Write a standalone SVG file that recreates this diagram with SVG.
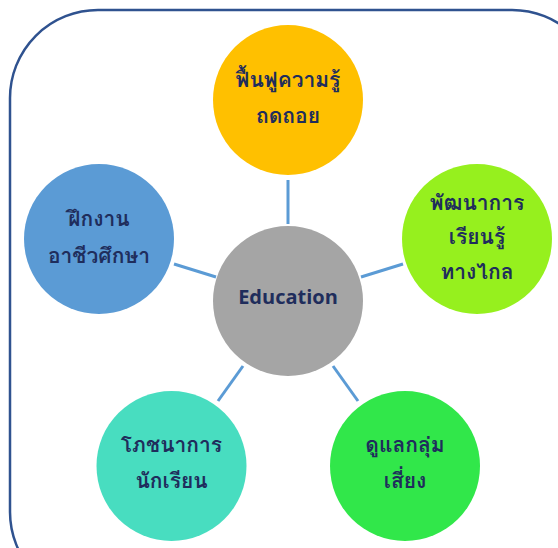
<svg xmlns="http://www.w3.org/2000/svg" width="558" height="548" viewBox="0 0 558 548">
<style>
.frame{fill:#ffffff;stroke:#2F528F;stroke-width:2.5}
.link{stroke:#5B9BD5;stroke-width:3;fill:none}
.t{font-family:"Tahoma","Loma","Garuda","Noto Sans Thai","Noto Sans",sans-serif;font-size:21px;font-weight:bold;fill:#1F2D5C;text-anchor:middle}
.e{font-family:"Open Sans","Noto Sans",sans-serif;font-size:20px;font-weight:bold;fill:#1F2D5C;text-anchor:middle}
</style>
<rect x="0" y="0" width="558" height="548" fill="#ffffff"/>
<rect class="frame" x="10" y="10" width="590" height="590" rx="88" ry="88"/>
<g id="connectors">
<line class="link" x1="288" y1="180" x2="288" y2="224"/>
<line class="link" x1="361" y1="277" x2="403" y2="264"/>
<line class="link" x1="174" y1="264" x2="216" y2="277"/>
<line class="link" x1="243" y1="366" x2="218" y2="401"/>
<line class="link" x1="333" y1="366" x2="358" y2="401"/>
</g>
<g id="center">
<circle cx="288" cy="301" r="75" fill="#A5A5A5"/>
<text class="e" x="288" y="304">Education</text>
</g>
<g id="top">
<circle cx="288" cy="100" r="75" fill="#FFC000"/>
<text class="t" x="288" y="87">ฟื้นฟูความรู้</text>
<text class="t" x="288" y="123">ถดถอย</text>
</g>
<g id="right">
<circle cx="477" cy="239" r="75" fill="#96F01E"/>
<text class="t" x="477" y="210">พัฒนาการ</text>
<text class="t" x="477" y="244">เรียนรู้</text>
<text class="t" x="477" y="279">ทางไกล</text>
</g>
<g id="left">
<circle cx="99" cy="239" r="75" fill="#5B9BD5"/>
<text class="t" x="99" y="226">ฝึกงาน</text>
<text class="t" x="99" y="263">อาชีวศึกษา</text>
</g>
<g id="bottom-left">
<circle cx="171.5" cy="466" r="75" fill="#48DDC0"/>
<text class="t" x="171.5" y="452">โภชนาการ</text>
<text class="t" x="171.5" y="488">นักเรียน</text>
</g>
<g id="bottom-right">
<circle cx="405" cy="466" r="75" fill="#31E74A"/>
<text class="t" x="405" y="452">ดูแลกลุ่ม</text>
<text class="t" x="405" y="488">เสี่ยง</text>
</g>
</svg>
